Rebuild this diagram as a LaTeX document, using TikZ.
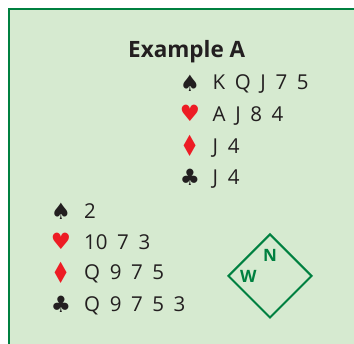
\documentclass[tikz,border=0pt]{standalone}
\usepackage{fontspec}
\setmainfont{Open Sans}
\newfontfamily\suitfont{DejaVu Sans}
\usetikzlibrary{positioning,shapes.geometric}
\definecolor{boxgreen}{RGB}{0,128,64}
\definecolor{boxfill}{RGB}{214,234,208}
\definecolor{suitred}{RGB}{237,28,36}
\definecolor{ink}{RGB}{35,31,32}
\newcommand\widespace{\spaceskip=9.6pt\relax}

\begin{document}
\begin{tikzpicture}[x=1pt,y=-1pt,
  every node/.style={text=ink,inner sep=0pt},
  suit/.style={font=\suitfont\fontsize{22.5}{22.5}\selectfont},
  redsuit/.style={suit,text=suitred},
  cards/.style={font=\fontsize{20.5}{20.5}\selectfont,execute at begin node=\widespace,anchor=base west},
  compass/.style={font=\bfseries\fontsize{17}{17}\selectfont,text=boxgreen}]
  \useasboundingbox (0,0) rectangle (354,344);
  % frame
  \draw[boxgreen,line width=2pt,fill=boxfill] (9,9) rectangle (380,380);
  \node[font=\bfseries\fontsize{22.5}{22.5}\selectfont,anchor=base west] (title) at (128,57.3) {Example A};
  % north hand
  \node[suit] (nS) at (190,83) {♠};
  \node[redsuit] (nH) at (190,113.5) {♥};
  \node[redsuit] (nD) at (190,145.5) {\scalebox{0.95}[1.3]{♦}};
  \node[suit] (nC) at (190,177) {♣};
  \node[cards] (nScards) at (212.5,90) {K Q J 7 5};
  \node[cards] (nHcards) at (212.5,121.7) {A J 8 4};
  \node[cards] (nDcards) at (212.5,153.3) {J 4};
  \node[cards] (nCcards) at (212.5,185) {J 4};
  % west hand
  \node[suit] (wS) at (61,211) {♠};
  \node[redsuit] (wH) at (61,241.7) {♥};
  \node[redsuit] (wD) at (61,272.5) {\scalebox{0.95}[1.3]{♦}};
  \node[suit] (wC) at (61,304) {♣};
  \node[cards] (wScards) at (84,218.3) {2};
  \node[cards] (wHcards) at (84,250) {10 7 3};
  \node[cards] (wDcards) at (84,280) {Q 9 7 5};
  \node[cards] (wCcards) at (84,311.7) {Q 9 7 5 3};
  % table
  \node[draw=boxgreen,line width=2pt,diamond,minimum width=84pt,minimum height=84pt] (table) at (270,276) {};
  \node[compass,below=16pt of table.north] (N) {N};
  \node[compass,right=13pt of table.west] (W) {W};
\end{tikzpicture}
\end{document}
